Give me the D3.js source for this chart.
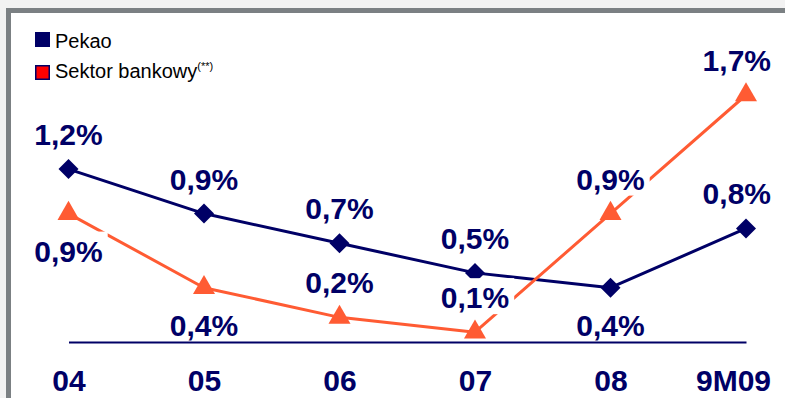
<!DOCTYPE html>
<html>
<head>
<meta charset="utf-8">
<script src="https://cdn.jsdelivr.net/npm/d3@7"></script>
<style>
  html, body { margin: 0; padding: 0; background: #f2f2f2; }
  svg { display: block; }
  text { font-family: "Liberation Sans", Arial, sans-serif; }
</style>
</head>
<body>
<svg id="chart" width="785" height="398"></svg>
<script>
// Years / period on the horizontal axis
const categories = ["04", "05", "06", "07", "08", "9M09"];
// Ratio values in percent
const pekaoValues = [1.2, 0.9, 0.7, 0.5, 0.4, 0.8];
const sektorValues = [0.9, 0.4, 0.2, 0.1, 0.9, 1.7];
const seriesNames = ["Pekao", "Sektor bankowy"];

// Layout
const W = 785, H = 398;
const navy = "#000066";
const orange = "#ff5b33";
const legendRed = "#ff0000";
const frameGrey = "#7b8083";
const labelFont = 30;
// Which side of the point each value label sits on
const pekaoLabelSide = ["above", "above", "above", "above", "below", "above"];
const sektorLabelSide = ["below", "below", "above", "above", "above", "above"];
const rightLimit = 771;

const svg = d3.select("#chart");

// Frame: light surround, thick grey top and left edges, white plot area
svg.append("rect").attr("x", 0).attr("y", 0).attr("width", W).attr("height", H).attr("fill", "#f2f2f2");
svg.append("rect").attr("x", 6).attr("y", 8).attr("width", W - 6).attr("height", H - 8).attr("fill", frameGrey);
svg.append("rect").attr("x", 11).attr("y", 13).attr("width", W - 11).attr("height", H - 13).attr("fill", "#ffffff");

const x = d3.scalePoint().domain(categories).range([68.5, 746]);
const y = d3.scaleLinear().domain([0, 1.7]).range([347, 95]);

const fmt = v => d3.format(".1f")(v).replace(".", ",") + "%";

const series = [
  { name: seriesNames[0], values: pekaoValues, color: navy, marker: "diamond", sides: pekaoLabelSide },
  { name: seriesNames[1], values: sektorValues, color: orange, marker: "triangle", sides: sektorLabelSide }
];

const line = d3.line().x((d, i) => x(categories[i])).y(d => y(d));

// Lines
series.forEach(s => {
  svg.append("path")
    .attr("d", line(s.values))
    .attr("fill", "none")
    .attr("stroke", s.color)
    .attr("stroke-width", 3)
    .attr("stroke-linejoin", "round");
});

// Markers
const diamond = d3.symbol().type(d3.symbolSquare).size(200);
const triangle = d3.symbol().type(d3.symbolTriangle).size(210);
series.forEach(s => {
  svg.append("g").selectAll("path")
    .data(s.values)
    .join("path")
    .attr("d", s.marker === "diamond" ? diamond() : triangle())
    .attr("transform", (d, i) => `translate(${x(categories[i])},${y(d)})` + (s.marker === "diamond" ? " rotate(45)" : ""))
    .attr("fill", s.color);
});

// Value labels on white boxes
const gLabels = svg.append("g");
series.forEach(s => {
  s.values.forEach((v, i) => {
    const cx = x(categories[i]);
    const base = s.sides[i] === "above" ? y(v) - 24 : y(v) + 48;
    const g = gLabels.append("g");
    const rect = g.append("rect").attr("fill", "#ffffff");
    const t = g.append("text")
      .attr("y", base)
      .attr("text-anchor", "middle")
      .attr("font-size", labelFont)
      .attr("font-weight", "bold")
      .attr("fill", navy)
      .text(fmt(v));
    const w = t.node().getComputedTextLength();
    let tx = cx;
    if (tx + w / 2 > rightLimit) tx = rightLimit - w / 2;
    t.attr("x", tx);
    rect.attr("x", tx - w / 2 - 5).attr("y", base - 30)
      .attr("width", w + 10).attr("height", 36);
  });
});

// Bottom axis: the baseline plus category labels (drawn over the label boxes)
const axis = d3.axisBottom(x).tickSize(0).tickSizeOuter(0).tickPadding(0);
const gAxis = svg.append("g").attr("transform", "translate(0,342)").call(axis);
gAxis.select(".domain").attr("stroke", navy).attr("stroke-width", 2);
gAxis.selectAll(".tick text")
  .attr("y", 49).attr("dy", 0)
  .attr("fill", navy)
  .attr("font-size", 30)
  .attr("font-weight", "bold")
  .attr("font-family", "'Liberation Sans', Arial, sans-serif");
gAxis.selectAll(".tick").each(function () {
  const t = d3.select(this);
  const tx = +t.attr("transform").match(/translate\(([-\d.]+)/)[1];
  const txt = t.select("text");
  const w = txt.node().getComputedTextLength();
  if (tx + w / 2 > rightLimit) txt.attr("x", rightLimit - w / 2 - tx);
});

// Legend
const legend = svg.append("g");
legend.append("rect").attr("x", 35).attr("y", 32).attr("width", 15).attr("height", 15)
  .attr("fill", navy);
legend.append("text").attr("x", 55).attr("y", 48).attr("font-size", 20).attr("fill", "#000")
  .text(seriesNames[0]);
legend.append("rect").attr("x", 35.75).attr("y", 65.75).attr("width", 13.5).attr("height", 13.5)
  .attr("fill", legendRed).attr("stroke", navy).attr("stroke-width", 1.5);
const lt = legend.append("text").attr("x", 55).attr("y", 77.5).attr("font-size", 20).attr("fill", "#000");
lt.append("tspan").text(seriesNames[1]);
lt.append("tspan").attr("font-size", 11).attr("dy", -8).text("(**)");
</script>
</body>
</html>
